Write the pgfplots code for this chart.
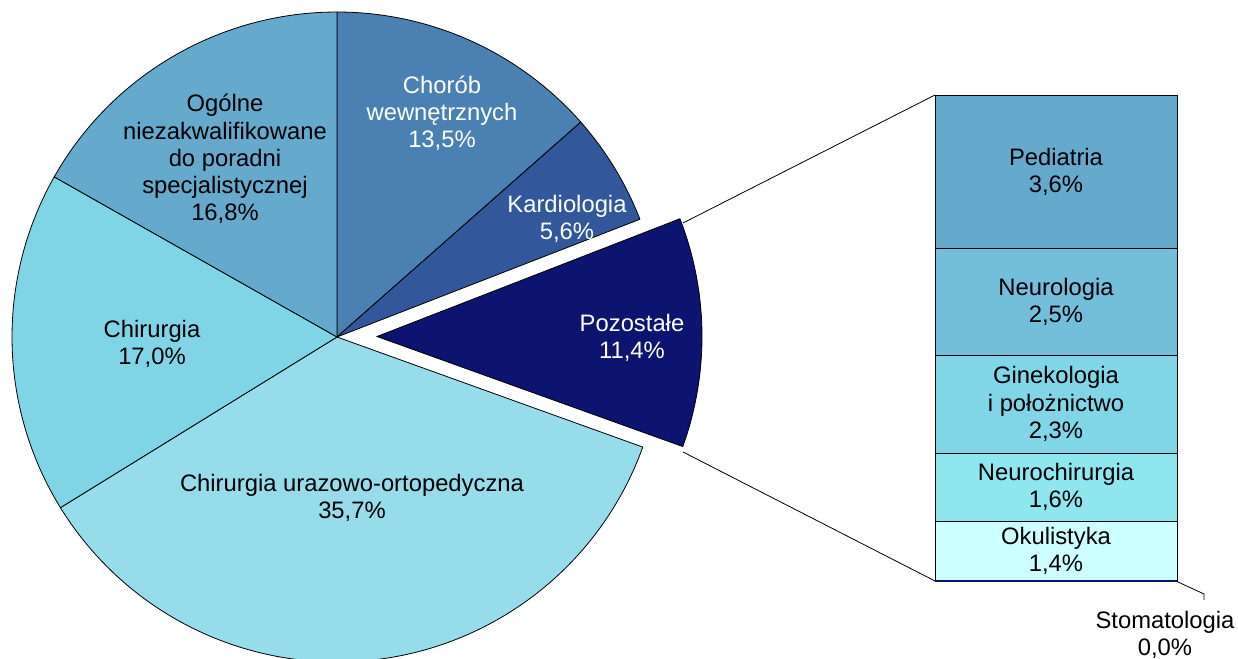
\documentclass[border=0pt]{standalone}
\usepackage{pgfplots}
\pgfplotsset{compat=1.18}
\usepackage{fontspec}
\setmainfont{Liberation Sans}
\definecolor{cOgol}{HTML}{65AACC}
\definecolor{cChor}{HTML}{4A80B2}
\definecolor{cKard}{HTML}{33579B}
\definecolor{cPoz}{HTML}{0D1470}
\definecolor{cUraz}{HTML}{97DCEA}
\definecolor{cChir}{HTML}{7FD5E6}
\definecolor{cPed}{HTML}{65AACC}
\definecolor{cNeur}{HTML}{73BEDA}
\definecolor{cGin}{HTML}{80D5E6}
\definecolor{cNch}{HTML}{8EE6EF}
\definecolor{cOku}{HTML}{CCFFFF}
% pie shares (percent), clockwise from 12 o'clock
\def\pChor{13.5}\def\pKard{5.6}\def\pPoz{11.4}\def\pUraz{35.7}\def\pChir{17.0}\def\pOgol{16.8}
\pgfmathsetmacro\aA{90}
\pgfmathsetmacro\aB{\aA-3.6*\pChor}
\pgfmathsetmacro\aC{\aB-3.6*\pKard}
\pgfmathsetmacro\aD{\aC-3.6*\pPoz}
\pgfmathsetmacro\aE{\aD-3.6*\pUraz}
\pgfmathsetmacro\aF{\aE-3.6*\pChir}
\pgfmathsetmacro\aG{\aF-3.6*\pOgol}
\def\cx{337}\def\cy{322}\def\R{325}
\begin{document}
\begin{tikzpicture}
\tikzset{lab/.style={align=center,font=\fontsize{11.9}{13.6}\selectfont}}
\begin{axis}[at={(0pt,0pt)},anchor=south west,scale only axis,width=619pt,height=329.5pt,
  xmin=0,xmax=1238,ymin=0,ymax=659,hide axis]
\addplot[fill=cChor,draw=black,line width=0.4pt,domain=\aB:\aA,samples=80,variable=\t] ({\cx+\R*cos(\t)},{\cy+\R*sin(\t)}) -- (axis cs:\cx,\cy) -- cycle;
\addplot[fill=cKard,draw=black,line width=0.4pt,domain=\aC:\aB,samples=40,variable=\t] ({\cx+\R*cos(\t)},{\cy+\R*sin(\t)}) -- (axis cs:\cx,\cy) -- cycle;
\addplot[fill=cUraz,draw=black,line width=0.4pt,domain=\aE:\aD,samples=160,variable=\t] ({\cx+\R*cos(\t)},{\cy+\R*sin(\t)}) -- (axis cs:\cx,\cy) -- cycle;
\addplot[fill=cChir,draw=black,line width=0.4pt,domain=\aF:\aE,samples=80,variable=\t] ({\cx+\R*cos(\t)},{\cy+\R*sin(\t)}) -- (axis cs:\cx,\cy) -- cycle;
\addplot[fill=cOgol,draw=black,line width=0.4pt,domain=\aG:\aF,samples=80,variable=\t] ({\cx+\R*cos(\t)},{\cy+\R*sin(\t)}) -- (axis cs:\cx,\cy) -- cycle;
% exploded slice
\addplot[fill=cPoz,draw=black,line width=0.4pt,domain=\aD:\aC,samples=60,variable=\t] ({\cx+40+\R*cos(\t)},{\cy+0.5+\R*sin(\t)}) -- (axis cs:\cx+40,\cy+0.5) -- cycle;
% connector lines
\addplot[black,line width=0.4pt] coordinates {(683,436) (935,564)};
\addplot[black,line width=0.4pt] coordinates {(683,207) (935,78)};
\addplot[black,line width=0.4pt] coordinates {(1178,77) (1204,65) (1204,59)};
% labels
\node[lab,text=white] at (axis cs:442,546) {Chorób\\wewnętrznych\\13,5\%};
\node[lab,text=white] at (axis cs:567,440) {Kardiologia\\5,6\%};
\node[lab,text=white] at (axis cs:632,321) {Pozostałe\\11,4\%};
\node[lab] at (axis cs:225,500) {Ogólne\\niezakwalifikowane\\do poradni\\specjalistycznej\\16,8\%};
\node[lab] at (axis cs:152,315) {Chirurgia\\17,0\%};
\node[lab] at (axis cs:352,161) {Chirurgia urazowo-ortopedyczna\\35,7\%};
\node[lab] at (axis cs:1165,24) {Stomatologia\\0,0\%};
\end{axis}
\begin{axis}[at={(467.5pt,39pt)},anchor=south west,scale only axis,width=121pt,height=243pt,
  ybar stacked,bar width=121pt,xmin=-0.5,xmax=0.5,ymin=0,ymax=11.4,hide axis,clip=false]
\addplot[fill=cPoz,draw=cPoz,line width=1.2pt] coordinates {(0,0.0)};
\addplot[fill=cOku,draw=black,line width=0.4pt] coordinates {(0,1.4)};
\addplot[fill=cNch,draw=black,line width=0.4pt] coordinates {(0,1.6)};
\addplot[fill=cGin,draw=black,line width=0.4pt] coordinates {(0,2.3)};
\addplot[fill=cNeur,draw=black,line width=0.4pt] coordinates {(0,2.5)};
\addplot[fill=cPed,draw=black,line width=0.4pt] coordinates {(0,3.6)};
\end{axis}
\begin{axis}[at={(467.5pt,39pt)},anchor=south west,scale only axis,width=121pt,height=243pt,
  xmin=-0.5,xmax=0.5,ymin=0,ymax=11.4,hide axis,clip=false]
% Stomatologia 0,0% : zero-height segment shown as a thick line
\addplot[cPoz,line width=1.4pt] coordinates {(-0.5,0) (0.5,0)};
\node[lab] at (axis cs:0,0.7) {Okulistyka\\1,4\%};
\node[lab] at (axis cs:0,2.2) {Neurochirurgia\\1,6\%};
\node[lab] at (axis cs:0,4.15) {Ginekologia\\i położnictwo\\2,3\%};
\node[lab] at (axis cs:0,6.55) {Neurologia\\2,5\%};
\node[lab] at (axis cs:0,9.6) {Pediatria\\3,6\%};
\end{axis}
\pgfresetboundingbox
\useasboundingbox (0,0) rectangle (619pt,329.5pt);
\end{tikzpicture}
\end{document}
